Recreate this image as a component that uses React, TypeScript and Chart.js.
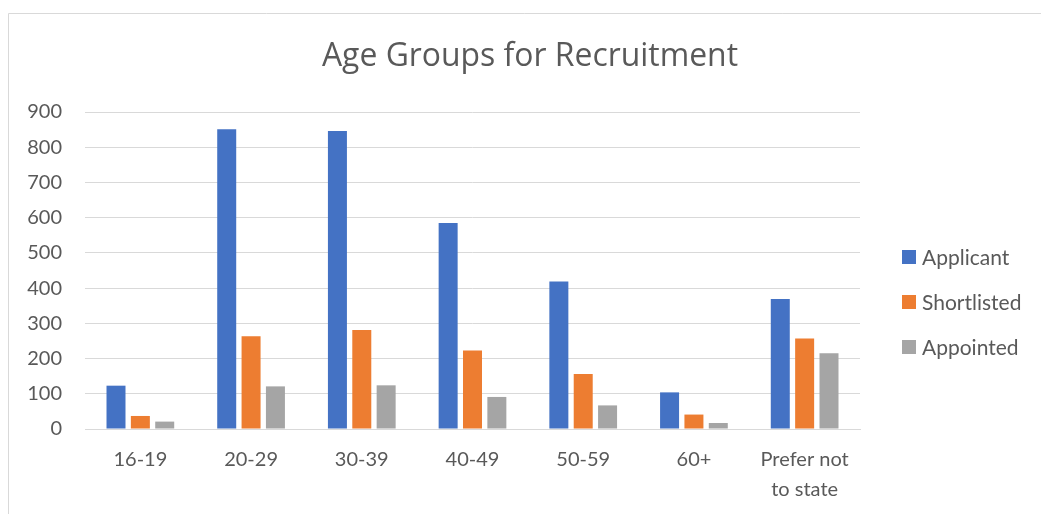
import React, { useEffect, useRef } from "react";
import { Chart, registerables } from "chart.js";

Chart.register(...registerables);

const categories: (string | string[])[] = ["16-19", "20-29", "30-39", "40-49", "50-59", "60+", ["Prefer not", "to state"]];
const applicant = [123, 851, 846, 585, 419, 104, 369];
const shortlisted = [37, 263, 281, 223, 156, 41, 257];
const appointed = [21, 121, 124, 91, 67, 17, 215];
const seriesNames = ["Applicant", "Shortlisted", "Appointed"];
const seriesColors = ["#4472C4", "#ED7D31", "#A5A5A5"];
const titleText = "Age Groups for Recruitment";
const yMax = 900;
const yStep = 100;

const FONT = "Lato, 'Open Sans', sans-serif";
const TITLE_FONT = "'Open Sans', Lato, sans-serif";
const TEXT = "#595959";

const decorPlugin = {
  id: "decor",
  beforeDraw(chart: any) {
    const ctx = chart.ctx;
    ctx.save();
    ctx.fillStyle = "#ffffff";
    ctx.fillRect(0, 0, chart.width, chart.height);
    ctx.strokeStyle = "#d9d9d9";
    ctx.lineWidth = 1;
    ctx.beginPath();
    ctx.moveTo(8.5, chart.height);
    ctx.lineTo(8.5, 13.5);
    ctx.lineTo(chart.width, 13.5);
    ctx.stroke();
    ctx.restore();
  },
  afterDraw(chart: any) {
    const ctx = chart.ctx;
    ctx.save();
    ctx.fillStyle = TEXT;
    ctx.font = `28px ${TITLE_FONT}`;
    const w = ctx.measureText(titleText).width;
    const size = Math.max(20, Math.min(36, (28 * 416) / w));
    ctx.font = `${size.toFixed(1)}px ${TITLE_FONT}`;
    ctx.textAlign = "center";
    ctx.textBaseline = "alphabetic";
    ctx.fillText(titleText, 530, 66);
    ctx.font = `21px ${FONT}`;
    ctx.textAlign = "left";
    ctx.textBaseline = "middle";
    chart.data.datasets.forEach((ds: any, i: number) => {
      const cy = 257 + i * 45;
      ctx.fillStyle = ds.backgroundColor;
      ctx.fillRect(902, cy - 7, 14, 14);
      ctx.fillStyle = TEXT;
      ctx.fillText(ds.label, 922, cy + 1);
    });
    ctx.restore();
  },
};

export default function App() {
  const ref = useRef<HTMLCanvasElement>(null);
  useEffect(() => {
    document.body.style.margin = "0";
    const seriesData = [applicant, shortlisted, appointed];
    const chart = new Chart(ref.current!, {
      type: "bar",
      data: {
        labels: categories,
        datasets: seriesNames.map((name, i) => ({
          label: name,
          data: seriesData[i],
          backgroundColor: seriesColors[i],
          barPercentage: 0.78,
          categoryPercentage: 0.66,
        })),
      },
      options: {
        animation: false,
        responsive: false,
        layout: { padding: { left: 0, top: 112, right: 181, bottom: 0 } },
        plugins: {
          legend: { display: false },
          title: { display: false },
          tooltip: { enabled: false },
        },
        scales: {
          x: {
            grid: { display: false, drawTicks: false },
            border: { display: true, color: "#d9d9d9", width: 1 },
            ticks: {
              color: TEXT,
              font: { family: FONT, size: 20, lineHeight: 1.5 },
              padding: 16,
              maxRotation: 0,
              autoSkip: false,
            },
            afterFit(axis: any) {
              axis.height = 85;
            },
          },
          y: {
            min: 0,
            max: yMax,
            grid: { color: "#d9d9d9", lineWidth: 1, drawTicks: false },
            border: { display: false },
            ticks: {
              stepSize: yStep,
              color: TEXT,
              font: { family: FONT, size: 20 },
              padding: 23,
            },
            afterFit(axis: any) {
              axis.width = 85;
            },
          },
        },
      },
      plugins: [decorPlugin],
    });
    return () => chart.destroy();
  }, []);
  return <canvas ref={ref} width={1041} height={514} style={{ display: "block" }} />;
}
